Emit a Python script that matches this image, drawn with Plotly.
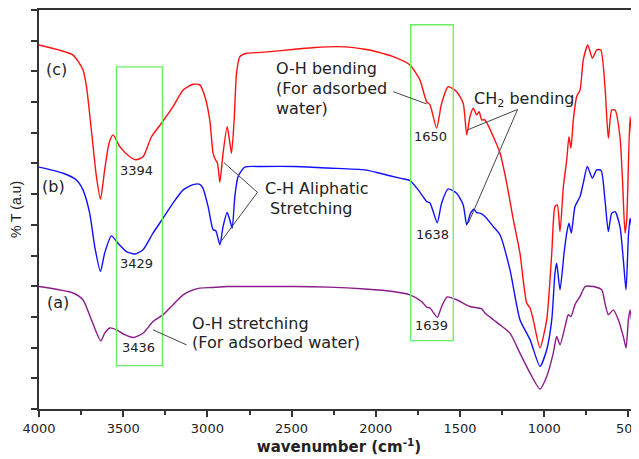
import plotly.graph_objects as go

# ---- data (wavenumber cm^-1, transmittance in arbitrary units) ----
wn_c = [4000, 3798, 3739, 3718, 3689, 3659, 3635, 3610, 3584, 3560, 3520, 3461, 3425, 3382, 3332, 3273,
        3204, 3144, 3085, 3045, 3015, 2986, 2966, 2952, 2940, 2926, 2907, 2883, 2869, 2857, 2841, 2827,
        2807, 2768, 2679, 2481, 2362, 2184, 2065, 1995, 1897, 1797, 1738, 1698, 1678, 1639, 1609, 1570,
        1520, 1481, 1460, 1441, 1421, 1401, 1386, 1371, 1352, 1302, 1262, 1223, 1183, 1144, 1104, 1084,
        1065, 1025, 985, 955, 936, 922, 906, 886, 866, 853, 841, 827, 807, 787, 768, 741, 714, 688, 664,
        639, 619, 599, 579, 550, 535, 520, 510, 490, 474, 454, 437]
t_c = [11.86, 11.53, 11.05, 10.50, 9.09, 7.57, 6.84, 7.79, 8.66, 8.93, 8.55, 8.22, 8.12, 8.22, 8.87, 9.31,
       9.85, 10.39, 10.58, 10.56, 10.18, 9.42, 8.33, 8.12, 8.01, 7.39, 8.33, 9.20, 8.77, 8.33, 9.42, 10.94,
       11.48, 11.59, 11.62, 11.72, 11.78, 11.80, 11.72, 11.64, 11.48, 11.21, 10.72, 10.01, 9.91, 9.15, 9.96, 10.50,
       10.34, 9.96, 8.93, 9.52, 9.80, 9.58, 9.69, 9.42, 9.42, 8.87, 8.33, 7.37, 6.16, 5.08, 3.45, 3.29,
       2.91, 1.99, 2.91, 5.08, 6.60, 6.65, 5.78, 7.25, 8.12, 8.87, 8.50, 9.42, 10.18, 10.39, 11.37, 11.86, 11.43, 11.70, 11.70,
       10.50, 8.82, 9.74, 9.74, 8.87, 7.46, 5.73, 6.16, 9.52, 8.34, 6.32, 8.12]

wn_b = [4000, 3857, 3778, 3739, 3699, 3669, 3635, 3610, 3570, 3531, 3481, 3431, 3382, 3323, 3263, 3204,
        3144, 3085, 3045, 3026, 2996, 2966, 2950, 2926, 2907, 2883, 2867, 2853, 2837, 2818, 2778, 2679,
        2481, 2283, 2065, 1976, 1857, 1797, 1748, 1698, 1678, 1635, 1609, 1570, 1520, 1481, 1460, 1437,
        1417, 1401, 1381, 1352, 1302, 1262, 1203, 1144, 1084, 1025, 985, 955, 936, 926, 906, 882, 866,
        853, 839, 817, 787, 768, 744, 714, 688, 662, 639, 619, 599, 579, 550, 530, 514, 500, 490, 474, 456, 437]
t_b = [7.88, 7.68, 7.46, 7.14, 6.38, 5.29, 4.48, 5.08, 5.64, 5.40, 5.13, 5.05, 5.19, 5.73, 6.22, 6.71,
       7.14, 7.31, 7.32, 7.19, 6.60, 5.84, 5.81, 5.35, 5.94, 6.40, 6.16, 5.89, 6.92, 7.57, 7.88, 7.90,
       7.90, 7.85, 7.79, 7.68, 7.52, 7.44, 7.14, 6.76, 6.71, 6.07, 6.71, 7.17, 7.03, 6.65, 6.00, 6.38,
       6.51, 6.40, 6.38, 6.27, 5.94, 5.67, 4.53, 2.91, 2.26, 1.39, 1.93, 2.91, 4.43, 4.75, 3.88, 5.08, 5.74,
       6.05, 5.73, 6.60, 6.92, 7.36, 7.90, 7.52, 7.79, 7.77, 6.81, 5.78, 6.38, 6.43, 5.94, 4.86, 3.88, 5.62, 6.22, 5.73, 5.19, 5.73]

wn_a = [4000, 3798, 3739, 3689, 3633, 3610, 3580, 3540, 3491, 3441, 3382, 3323, 3263, 3204, 3144, 3085,
        3045, 2976, 2877, 2679, 2481, 2283, 2065, 1897, 1797, 1728, 1698, 1678, 1635, 1609, 1576, 1520,
        1441, 1371, 1352, 1302, 1262, 1203, 1144, 1084, 1025, 985, 946, 926, 906, 876, 857, 841, 817, 787,
        757, 708, 658, 639, 619, 589, 560, 530, 514, 500, 490, 474, 456, 437]
t_a = [3.99, 3.78, 3.56, 2.91, 2.22, 2.47, 2.64, 2.58, 2.42, 2.33, 2.47, 2.85, 3.07, 3.40, 3.72, 3.88,
       3.94, 3.96, 3.99, 3.99, 3.99, 3.97, 3.91, 3.83, 3.72, 3.50, 3.32, 3.29, 2.99, 3.34, 3.65, 3.56,
       3.34, 3.26, 3.13, 2.91, 2.74, 2.47, 1.82, 1.17, 0.65, 1.06, 1.82, 2.36, 2.09, 2.69, 3.07, 3.01, 3.40, 3.67,
       3.99, 3.99, 3.88, 3.45, 3.07, 3.23, 2.91, 2.36, 1.99, 2.91, 3.23, 2.58, 2.15, 2.47]

x_ticks = [4000, 3500, 3000, 2500, 2000, 1500, 1000, 500]

fig = go.Figure()
fig.add_trace(go.Scatter(x=wn_a, y=t_a, mode="lines", line=dict(color="#8B1A8B", width=1.4, shape="spline", smoothing=0.6)))
fig.add_trace(go.Scatter(x=wn_b, y=t_b, mode="lines", line=dict(color="#1010FF", width=1.4, shape="spline", smoothing=0.6)))
fig.add_trace(go.Scatter(x=wn_c, y=t_c, mode="lines", line=dict(color="#FF1010", width=1.4, shape="spline", smoothing=0.6)))

green = "#66EE66"
shapes = [
    dict(type="rect", xref="x", yref="y", x0=3540, x1=3267, y0=1.41, y1=11.15, line=dict(color=green, width=1.3)),
    dict(type="rect", xref="x", yref="y", x0=1793, x1=1540, y0=2.23, y1=12.52, line=dict(color=green, width=1.3)),
]
lc = "#444444"
for (x0, y0, x1, y1) in [(1897, 10.34, 1698, 9.94),
                         (1158, 9.76, 1457, 9.09),
                         (1158, 9.76, 1451, 6.05),
                         (2703, 7.06, 2902, 8.03),
                         (2703, 7.06, 2923, 5.43),
                         (3323, 2.58, 3124, 2.09)]:
    shapes.append(dict(type="line", xref="x", yref="y", x0=x0, y0=y0, x1=x1, y1=y1, line=dict(color=lc, width=1)))

FONT = "DejaVu Sans, Arial, sans-serif"
tc = "#222222"
ann = []
def txt(x, y, s, size=16, xanchor="center"):
    ann.append(dict(x=x, y=y, xref="x", yref="y", text=s, showarrow=False, xanchor=xanchor, yanchor="middle",
                    align="left", font=dict(family=FONT, size=size, color=tc)))

txt(3895, 11.05, "(c)", 16)
txt(3913, 7.25, "(b)", 16)
txt(3887, 3.47, "(a)", 16)
txt(3420, 7.77, "3394", 13)
txt(3420, 4.75, "3429", 13)
txt(3412, 1.99, "3436", 13)
txt(1674, 8.87, "1650", 13)
txt(1665, 5.67, "1638", 13)
txt(1668, 2.71, "1639", 13)
txt(2605, 11.10, "O-H bending", 16, "left")
txt(2605, 10.45, "(For adsorbed", 16, "left")
txt(2605, 9.80, "water)", 16, "left")
txt(1429, 10.10, "CH<sub>2</sub> bending", 16, "left")
txt(2669, 7.19, "C-H Aliphatic", 16, "left")
txt(2639, 6.54, "Stretching", 16, "left")
txt(3102, 2.80, "O-H stretching", 16, "left")
txt(3102, 2.17, "(For adsorbed water)", 16, "left")

# the page body adds an 8px offset, so the figure is drawn 8px smaller with margins shifted
fig.update_layout(
    width=631, height=451,
    margin=dict(l=31, r=0, t=2, b=50, autoexpand=False),
    paper_bgcolor="white", plot_bgcolor="white",
    showlegend=False,
    shapes=shapes, annotations=ann,
    font=dict(family=FONT, color="#222222"),
    xaxis=dict(range=[4000, 437], tickvals=x_ticks, ticks="outside", ticklen=6, tickwidth=1.5,
               tickcolor="#333333", showline=True, linecolor="#333333", linewidth=2, mirror=True,
               showgrid=False, zeroline=False, tickfont=dict(family=FONT, size=13, color="#222222"), automargin=False,
               ticklabeloverflow="allow",
               minor=dict(dtick=250, ticks="outside", ticklen=4, tickwidth=1.5, tickcolor="#333333", showgrid=False),
               title=dict(text="<b>wavenumber (cm<sup>-1</sup>)</b>", font=dict(family=FONT, size=15, color="#222222"), standoff=5)),
    yaxis=dict(range=[0, 13], dtick=1, ticks="outside", ticklen=6, tickwidth=1.5, tickcolor="#333333",
               showticklabels=False, showline=True, linecolor="#333333", linewidth=2, automargin=False,
               showgrid=False, zeroline=False,
               title=dict(text="% T (a.u)", font=dict(family="Arial, Liberation Sans, sans-serif", size=14, color="#222222"), standoff=6)),
)
fig.write_html("out.html")
